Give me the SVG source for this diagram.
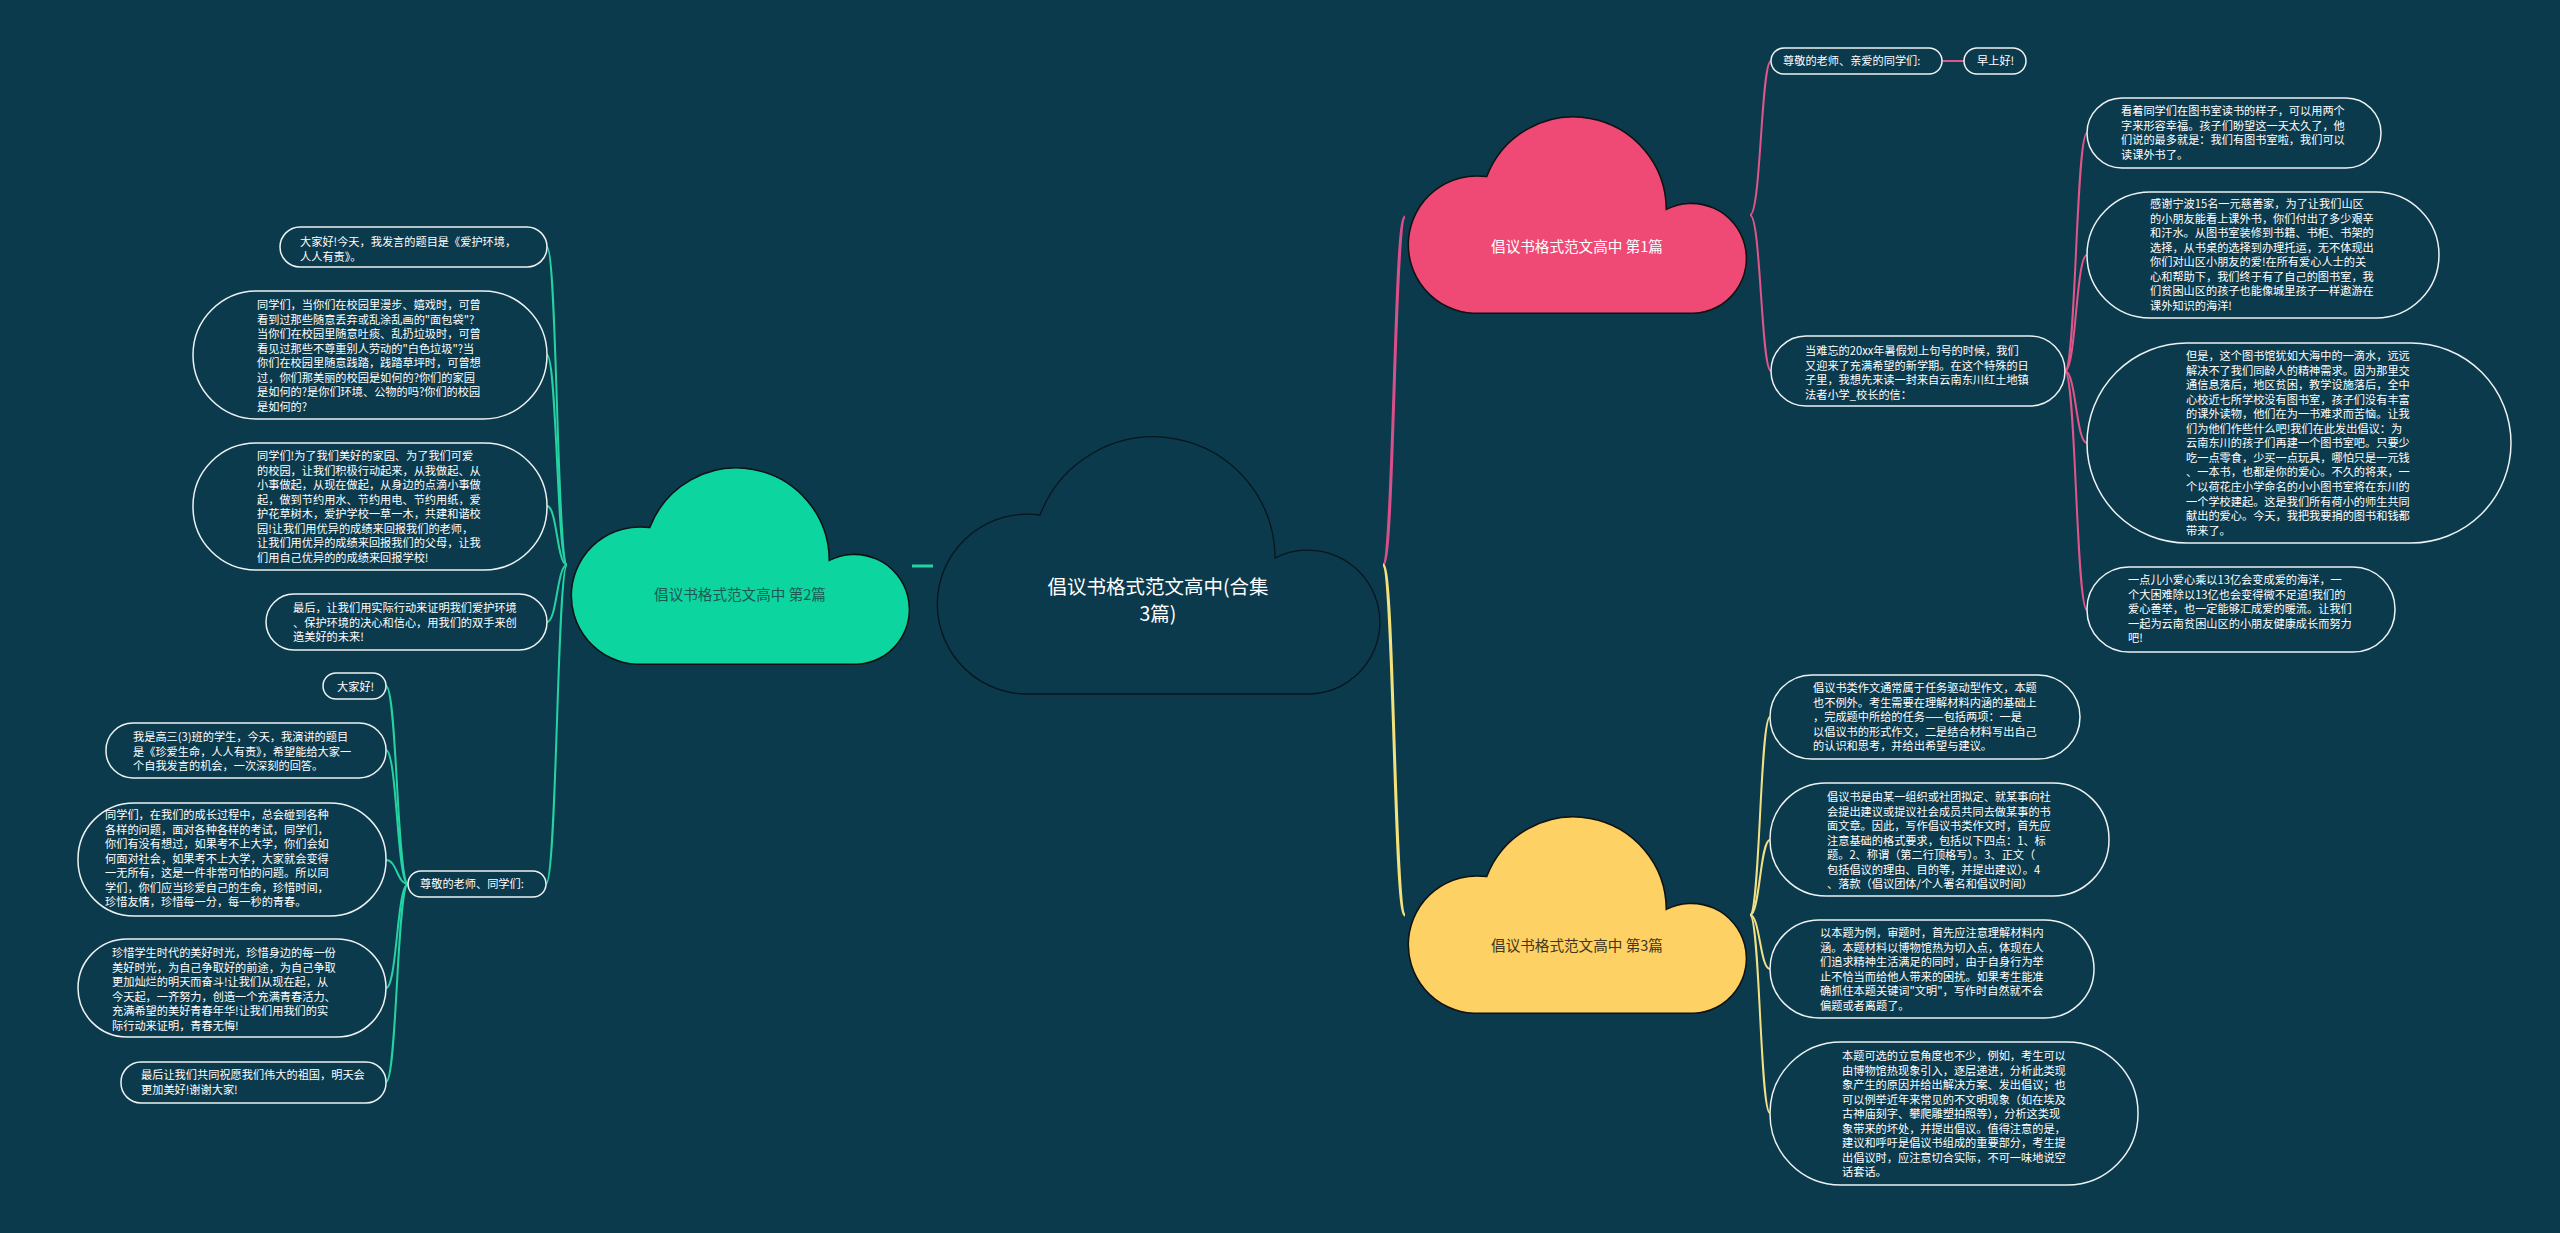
<svg xmlns="http://www.w3.org/2000/svg" xmlns:xlink="http://www.w3.org/1999/xlink" width="2560" height="1233" viewBox="0 0 2560 1233">
<defs>
<path id="cloud" d="M90,257 A90,90 0 1 1 107,78 A121.5,121.5 0 0 1 342,121 A72,72 0 1 1 378,257 Z"/>
<style>
.leaf{fill:none;stroke:#eef2f2;stroke-width:1.5}
.t{font-family:"Noto Sans CJK SC","Microsoft YaHei","Noto Sans",sans-serif;fill:#ffffff;font-size:11.2px}
.title{font-family:"Noto Sans CJK SC","Microsoft YaHei","Noto Sans",sans-serif;font-size:14.6px;text-anchor:middle}
.cp{fill:none;stroke:#e0558a;stroke-width:2}
.cy{fill:none;stroke:#f2e084;stroke-width:2}
.cg{fill:none;stroke:#25d3a2;stroke-width:2}
</style>
</defs>
<rect x="0" y="0" width="2560" height="1233" fill="#0b3a4d"/>

<g id="connectors">
<path d="M1383,565 C1394,565 1394,217 1405,217" fill="none" stroke="#d8508a" stroke-width="3"/>
<path d="M1383,565 C1394,565 1394,915 1405,915" fill="none" stroke="#f3e27c" stroke-width="3"/>
<path d="M933,566 L912,566" fill="none" stroke="#25d3a2" stroke-width="3"/>
<path class="cp" d="M1750,215 C1761,215 1761,61 1771,61"/>
<path class="cp" d="M1750,215 C1761,215 1761,371 1771,371"/>
<path class="cp" d="M1942,61 L1964,61"/>
<path class="cp" d="M2065,371 C2076,371 2076,133 2087,133"/>
<path class="cp" d="M2065,371 C2076,371 2076,255 2087,255"/>
<path class="cp" d="M2065,371 C2076,371 2076,443 2087,443"/>
<path class="cp" d="M2065,371 C2076,371 2076,610 2087,610"/>
<path class="cy" d="M1750,915 C1760,915 1760,717 1770,717"/>
<path class="cy" d="M1750,915 C1760,915 1760,840 1770,840"/>
<path class="cy" d="M1750,915 C1760,915 1760,969 1770,969"/>
<path class="cy" d="M1750,915 C1760,915 1760,1113 1770,1113"/>
<path class="cg" d="M567,565 C557,565 557,247 547,247"/>
<path class="cg" d="M567,565 C557,565 557,355 547,355"/>
<path class="cg" d="M567,565 C557,565 557,506 547,506"/>
<path class="cg" d="M567,565 C557,565 557,622 547,622"/>
<path class="cg" d="M567,565 C557,565 557,884 546,884"/>
<path class="cg" d="M408,884 C397,884 397,686 386,686"/>
<path class="cg" d="M408,884 C397,884 397,750 386,750"/>
<path class="cg" d="M408,884 C397,884 397,860 386,860"/>
<path class="cg" d="M408,884 C397,884 397,988 386,988"/>
<path class="cg" d="M408,884 C397,884 397,1082 386,1082"/>
</g>

<g id="root">
<use xlink:href="#cloud" href="#cloud" transform="translate(933,437)" fill="#0b3a4d" stroke="#08161c" stroke-width="1.3"/>
<text class="title" x="1158" y="594" fill="#ffffff" style="font-size:19.5px">倡议书格式范文高中(合集</text>
<text class="title" x="1158" y="621" fill="#ffffff" style="font-size:19.5px">3篇)</text>
</g>

<g id="topic1">
<use xlink:href="#cloud" href="#cloud" transform="translate(1405,117) scale(0.764)" fill="#ef4a75" stroke="#111111" stroke-width="2"/>
<text class="title" x="1577" y="252" fill="#ffffff">倡议书格式范文高中 第1篇</text>
</g>
<g id="topic2">
<use xlink:href="#cloud" href="#cloud" transform="translate(568,468) scale(0.764)" fill="#0cd5a0" stroke="#111111" stroke-width="2"/>
<text class="title" x="740" y="600" fill="#1d5a52">倡议书格式范文高中 第2篇</text>
</g>
<g id="topic3">
<use xlink:href="#cloud" href="#cloud" transform="translate(1405,817) scale(0.764)" fill="#fed164" stroke="#111111" stroke-width="2"/>
<text class="title" x="1577" y="951" fill="#3f3720">倡议书格式范文高中 第3篇</text>
</g>

<!-- pink branch -->
<g id="p1">
<rect class="leaf" x="1771" y="48" width="171" height="26" rx="13"/>
<text class="t" x="1783" y="65">尊敬的老师、亲爱的同学们:</text>
</g>
<g id="p1a">
<rect class="leaf" x="1964" y="48" width="62" height="26" rx="13"/>
<text class="t" x="1977" y="65">早上好!</text>
</g>
<g id="p4">
<rect class="leaf" x="1771" y="336" width="294" height="70" rx="35"/>
<text class="t" y="355"><tspan x="1805">当难忘的20xx年暑假划上句号的时候，我们</tspan><tspan x="1805" dy="14.55">又迎来了充满希望的新学期。在这个特殊的日</tspan><tspan x="1805" dy="14.55">子里，我想先来读一封来自云南东川红土地镇</tspan><tspan x="1805" dy="14.55">法者小学_校长的信：</tspan></text>
</g>
<g id="p2">
<rect class="leaf" x="2087" y="98" width="294" height="70" rx="35"/>
<text class="t" y="115"><tspan x="2121">看着同学们在图书室读书的样子，可以用两个</tspan><tspan x="2121" dy="14.55">字来形容幸福。孩子们盼望这一天太久了，他</tspan><tspan x="2121" dy="14.55">们说的最多就是：我们有图书室啦，我们可以</tspan><tspan x="2121" dy="14.55">读课外书了。</tspan></text>
</g>
<g id="p3">
<rect class="leaf" x="2087" y="192" width="352" height="126" rx="63"/>
<text class="t" y="208"><tspan x="2150">感谢宁波15名一元慈善家，为了让我们山区</tspan><tspan x="2150" dy="14.55">的小朋友能看上课外书，你们付出了多少艰辛</tspan><tspan x="2150" dy="14.55">和汗水。从图书室装修到书籍、书柜、书架的</tspan><tspan x="2150" dy="14.55">选择，从书桌的选择到办理托运，无不体现出</tspan><tspan x="2150" dy="14.55">你们对山区小朋友的爱!在所有爱心人士的关</tspan><tspan x="2150" dy="14.55">心和帮助下，我们终于有了自己的图书室，我</tspan><tspan x="2150" dy="14.55">们贫困山区的孩子也能像城里孩子一样遨游在</tspan><tspan x="2150" dy="14.55">课外知识的海洋!</tspan></text>
</g>
<g id="p5">
<rect class="leaf" x="2087" y="343" width="424" height="200" rx="100"/>
<text class="t" y="360"><tspan x="2186">但是，这个图书馆犹如大海中的一滴水，远远</tspan><tspan x="2186" dy="14.55">解决不了我们同龄人的精神需求。因为那里交</tspan><tspan x="2186" dy="14.55">通信息落后，地区贫困，教学设施落后，全中</tspan><tspan x="2186" dy="14.55">心校近七所学校没有图书室，孩子们没有丰富</tspan><tspan x="2186" dy="14.55">的课外读物，他们在为一书难求而苦恼。让我</tspan><tspan x="2186" dy="14.55">们为他们作些什么吧!我们在此发出倡议：为</tspan><tspan x="2186" dy="14.55">云南东川的孩子们再建一个图书室吧。只要少</tspan><tspan x="2186" dy="14.55">吃一点零食，少买一点玩具，哪怕只是一元钱</tspan><tspan x="2186" dy="14.55">、一本书，也都是你的爱心。不久的将来，一</tspan><tspan x="2186" dy="14.55">个以荷花庄小学命名的小小图书室将在东川的</tspan><tspan x="2186" dy="14.55">一个学校建起。这是我们所有荷小的师生共同</tspan><tspan x="2186" dy="14.55">献出的爱心。今天，我把我要捐的图书和钱都</tspan><tspan x="2186" dy="14.55">带来了。</tspan></text>
</g>
<g id="p6">
<rect class="leaf" x="2087" y="567" width="308" height="85" rx="42"/>
<text class="t" y="584"><tspan x="2128">一点儿小爱心乘以13亿会变成爱的海洋，一</tspan><tspan x="2128" dy="14.55">个大困难除以13亿也会变得微不足道!我们的</tspan><tspan x="2128" dy="14.55">爱心善举，也一定能够汇成爱的暖流。让我们</tspan><tspan x="2128" dy="14.55">一起为云南贫困山区的小朋友健康成长而努力</tspan><tspan x="2128" dy="14.55">吧!</tspan></text>
</g>

<!-- yellow branch -->
<g id="y1">
<rect class="leaf" x="1770" y="675" width="310" height="84" rx="42"/>
<text class="t" y="692"><tspan x="1813">倡议书类作文通常属于任务驱动型作文，本题</tspan><tspan x="1813" dy="14.55">也不例外。考生需要在理解材料内涵的基础上</tspan><tspan x="1813" dy="14.55">，完成题中所给的任务——包括两项：一是</tspan><tspan x="1813" dy="14.55">以倡议书的形式作文，二是结合材料写出自己</tspan><tspan x="1813" dy="14.55">的认识和思考，并给出希望与建议。</tspan></text>
</g>
<g id="y2">
<rect class="leaf" x="1770" y="783" width="339" height="113" rx="56"/>
<text class="t" y="801"><tspan x="1827">倡议书是由某一组织或社团拟定、就某事向社</tspan><tspan x="1827" dy="14.55">会提出建议或提议社会成员共同去做某事的书</tspan><tspan x="1827" dy="14.55">面文章。因此，写作倡议书类作文时，首先应</tspan><tspan x="1827" dy="14.55">注意基础的格式要求，包括以下四点：1、标</tspan><tspan x="1827" dy="14.55">题。2、称谓（第二行顶格写）。3、正文（</tspan><tspan x="1827" dy="14.55">包括倡议的理由、目的等，并提出建议）。4</tspan><tspan x="1827" dy="14.55">、落款（倡议团体/个人署名和倡议时间）</tspan></text>
</g>
<g id="y3">
<rect class="leaf" x="1770" y="920" width="324" height="98" rx="49"/>
<text class="t" y="937"><tspan x="1820">以本题为例，审题时，首先应注意理解材料内</tspan><tspan x="1820" dy="14.55">涵。本题材料以博物馆热为切入点，体现在人</tspan><tspan x="1820" dy="14.55">们追求精神生活满足的同时，由于自身行为举</tspan><tspan x="1820" dy="14.55">止不恰当而给他人带来的困扰。如果考生能准</tspan><tspan x="1820" dy="14.55">确抓住本题关键词"文明"，写作时自然就不会</tspan><tspan x="1820" dy="14.55">偏题或者离题了。</tspan></text>
</g>
<g id="y4">
<rect class="leaf" x="1770" y="1042" width="368" height="143" rx="71"/>
<text class="t" y="1060"><tspan x="1842">本题可选的立意角度也不少，例如，考生可以</tspan><tspan x="1842" dy="14.55">由博物馆热现象引入，逐层递进，分析此类现</tspan><tspan x="1842" dy="14.55">象产生的原因并给出解决方案、发出倡议；也</tspan><tspan x="1842" dy="14.55">可以例举近年来常见的不文明现象（如在埃及</tspan><tspan x="1842" dy="14.55">古神庙刻字、攀爬雕塑拍照等），分析这类现</tspan><tspan x="1842" dy="14.55">象带来的坏处，并提出倡议。值得注意的是，</tspan><tspan x="1842" dy="14.55">建议和呼吁是倡议书组成的重要部分，考生提</tspan><tspan x="1842" dy="14.55">出倡议时，应注意切合实际，不可一味地说空</tspan><tspan x="1842" dy="14.55">话套话。</tspan></text>
</g>

<!-- green branch -->
<g id="g1">
<rect class="leaf" x="280" y="227" width="267" height="40" rx="20"/>
<text class="t" y="246"><tspan x="300">大家好!今天，我发言的题目是《爱护环境，</tspan><tspan x="300" dy="14.55">人人有责》。</tspan></text>
</g>
<g id="g2">
<rect class="leaf" x="193" y="291" width="354" height="128" rx="64"/>
<text class="t" y="309"><tspan x="257">同学们，当你们在校园里漫步、嬉戏时，可曾</tspan><tspan x="257" dy="14.55">看到过那些随意丢弃或乱涂乱画的"面包袋"?</tspan><tspan x="257" dy="14.55">当你们在校园里随意吐痰、乱扔垃圾时，可曾</tspan><tspan x="257" dy="14.55">看见过那些不尊重别人劳动的"白色垃圾"?当</tspan><tspan x="257" dy="14.55">你们在校园里随意践踏，践踏草坪时，可曾想</tspan><tspan x="257" dy="14.55">过，你们那美丽的校园是如何的?你们的家园</tspan><tspan x="257" dy="14.55">是如何的?是你们环境、公物的吗?你们的校园</tspan><tspan x="257" dy="14.55">是如何的?</tspan></text>
</g>
<g id="g3">
<rect class="leaf" x="193" y="443" width="354" height="127" rx="63"/>
<text class="t" y="460"><tspan x="257">同学们!为了我们美好的家园、为了我们可爱</tspan><tspan x="257" dy="14.55">的校园，让我们积极行动起来，从我做起、从</tspan><tspan x="257" dy="14.55">小事做起，从现在做起，从身边的点滴小事做</tspan><tspan x="257" dy="14.55">起，做到节约用水、节约用电、节约用纸，爱</tspan><tspan x="257" dy="14.55">护花草树木，爱护学校一草一木，共建和谐校</tspan><tspan x="257" dy="14.55">园!让我们用优异的成绩来回报我们的老师，</tspan><tspan x="257" dy="14.55">让我们用优异的成绩来回报我们的父母，让我</tspan><tspan x="257" dy="14.55">们用自己优异的的成绩来回报学校!</tspan></text>
</g>
<g id="g4">
<rect class="leaf" x="266" y="594" width="281" height="56" rx="28"/>
<text class="t" y="612"><tspan x="293">最后，让我们用实际行动来证明我们爱护环境</tspan><tspan x="293" dy="14.55">、保护环境的决心和信心，用我们的双手来创</tspan><tspan x="293" dy="14.55">造美好的未来!</tspan></text>
</g>
<g id="g5">
<rect class="leaf" x="408" y="871" width="138" height="26" rx="13"/>
<text class="t" x="420" y="888">尊敬的老师、同学们:</text>
</g>
<g id="g5a">
<rect class="leaf" x="323" y="673" width="63" height="26" rx="13"/>
<text class="t" x="337" y="691">大家好!</text>
</g>
<g id="g5b">
<rect class="leaf" x="106" y="723" width="280" height="55" rx="27"/>
<text class="t" y="741"><tspan x="133">我是高三(3)班的学生，今天，我演讲的题目</tspan><tspan x="133" dy="14.55">是《珍爱生命，人人有责》，希望能给大家一</tspan><tspan x="133" dy="14.55">个自我发言的机会，一次深刻的回答。</tspan></text>
</g>
<g id="g5c">
<rect class="leaf" x="78" y="803" width="308" height="113" rx="56"/>
<text class="t" y="819"><tspan x="105">同学们，在我们的成长过程中，总会碰到各种</tspan><tspan x="105" dy="14.55">各样的问题，面对各种各样的考试，同学们，</tspan><tspan x="105" dy="14.55">你们有没有想过，如果考不上大学，你们会如</tspan><tspan x="105" dy="14.55">何面对社会，如果考不上大学，大家就会变得</tspan><tspan x="105" dy="14.55">一无所有，这是一件非常可怕的问题。所以同</tspan><tspan x="105" dy="14.55">学们，你们应当珍爱自己的生命，珍惜时间，</tspan><tspan x="105" dy="14.55">珍惜友情，珍惜每一分，每一秒的青春。</tspan></text>
</g>
<g id="g5d">
<rect class="leaf" x="78" y="939" width="308" height="98" rx="49"/>
<text class="t" y="957"><tspan x="112">珍惜学生时代的美好时光，珍惜身边的每一份</tspan><tspan x="112" dy="14.55">美好时光，为自己争取好的前途，为自己争取</tspan><tspan x="112" dy="14.55">更加灿烂的明天而奋斗!让我们从现在起，从</tspan><tspan x="112" dy="14.55">今天起，一齐努力，创造一个充满青春活力、</tspan><tspan x="112" dy="14.55">充满希望的美好青春年华!让我们用我们的实</tspan><tspan x="112" dy="14.55">际行动来证明，青春无悔!</tspan></text>
</g>
<g id="g5e">
<rect class="leaf" x="121" y="1062" width="265" height="41" rx="20"/>
<text class="t" y="1079"><tspan x="141">最后让我们共同祝愿我们伟大的祖国，明天会</tspan><tspan x="141" dy="14.55">更加美好!谢谢大家!</tspan></text>
</g>
</svg>
